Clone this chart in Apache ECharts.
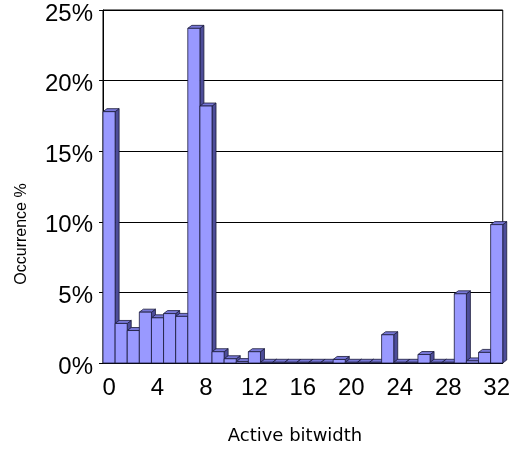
<!DOCTYPE html>
<html><head><meta charset="utf-8">
<script src="https://cdn.jsdelivr.net/npm/echarts@6/dist/echarts.min.js"></script>
<style>html,body{margin:0;padding:0;background:#fff}#c{width:513px;height:449px}</style>
</head><body><div id="c"></div>
<script>
const categories = ['0','1','2','3','4','5','6','7','8','9','10','11','12','13','14','15','16','17','18','19','20','21','22','23','24','25','26','27','28','29','30','31','32'];
const occurrence = [17.8,2.8,2.3,3.6,3.2,3.5,3.3,23.7,18.2,0.8,0.3,0.1,0.8,0.05,0.05,0.05,0.05,0.05,0.05,0.25,0.05,0.05,0.05,2.0,0.05,0.05,0.6,0.05,0.05,4.9,0.15,0.75,9.8];
const yTicks = [0,5,10,15,20,25];
const xTitle = 'Active bitwidth';
const yTitle = 'Occurrence %';

const chart = echarts.init(document.getElementById('c'), null, {renderer:'canvas'});
const DX = 4, DY = 3;
function renderItem(params, api){
  const x = api.value(0), v = api.value(1);
  const top = api.coord([x, v]);
  const bot = api.coord([x, 0]);
  const w = api.size([1, 0])[0];
  const x0 = top[0] - w/2, x1 = top[0] + w/2;
  const yt = top[1], yb = bot[1];
  const stroke = {stroke:'#1a1a3a', lineWidth:0.8};
  return {type:'group', children:[
    {type:'polygon', shape:{points:[[x1,yb],[x1+DX,yb-DY],[x1+DX,yt-DY],[x1,yt]]}, style:Object.assign({fill:'#4d4d99'},stroke)},
    {type:'polygon', shape:{points:[[x0,yt],[x0+DX,yt-DY],[x1+DX,yt-DY],[x1,yt]]}, style:Object.assign({fill:'#7777d6'},stroke)},
    {type:'rect', shape:{x:x0, y:yt, width:w, height:yb-yt}, style:Object.assign({fill:'#9999ff'},stroke)}
  ]};
}
chart.setOption({
  animation:false,
  grid:{left:103, right:8, top:10, bottom:86, show:true, borderColor:'#000', borderWidth:1},
  graphic:[
    {type:'text', x:22, y:234, rotation:Math.PI/2,
     style:{text:yTitle, fontFamily:'Liberation Sans', fontSize:16, fill:'#000', align:'center', verticalAlign:'middle'}},
    {type:'text', x:295, y:436,
     style:{text:xTitle, fontFamily:'DejaVu Sans', fontSize:18, fill:'#000', align:'center', verticalAlign:'middle'}}
  ],
  xAxis:{type:'category', data:categories,
    axisLine:{lineStyle:{color:'#000'}}, axisTick:{show:false},
    axisLabel:{interval:3, fontFamily:'Liberation Sans', fontSize:24, color:'#000', margin:13}},
  yAxis:{type:'value', min:0, max:25, interval:5,
    axisLine:{show:true, lineStyle:{color:'#000'}},
    axisTick:{show:true, length:4, lineStyle:{color:'#000'}},
    splitLine:{lineStyle:{color:'#000', width:1}},
    axisLabel:{formatter:v=>v+'%', fontFamily:'Liberation Sans', fontSize:24, color:'#000', margin:10, verticalAlign:'top', lineHeight:8}},
  series:[{type:'custom', renderItem:renderItem, data:occurrence.map((v,i)=>[i,v]), clip:false}]
});
</script></body></html>
